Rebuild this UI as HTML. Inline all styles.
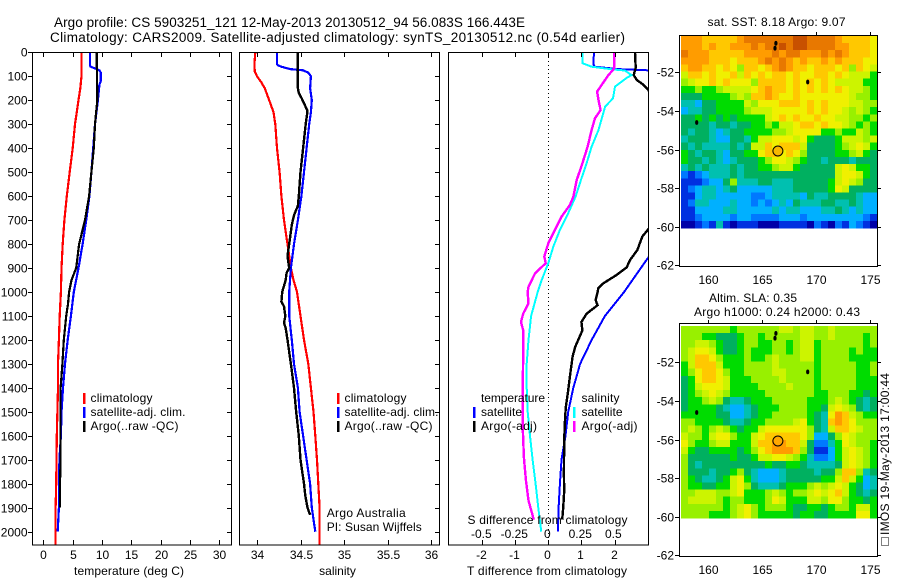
<!DOCTYPE html>
<html lang="en">
<head>
<meta charset="utf-8">
<title>Argo profile</title>
<style>
html,body{margin:0;padding:0;background:#fff;}
svg{display:block;}
text{font-family:"Liberation Sans",sans-serif;font-size:12px;fill:#000;}
.ttl{font-size:13.5px;}
.frame{fill:none;stroke:#000;stroke-width:1;shape-rendering:crispEdges;}
.tick{stroke:#000;stroke-width:1;shape-rendering:crispEdges;}
.prof{fill:none;stroke-linejoin:miter;shape-rendering:crispEdges;}
</style>
</head>
<body>
<svg id="chart" xmlns="http://www.w3.org/2000/svg" width="900" height="580" viewBox="0 0 900 580">
<defs>
<clipPath id="clip-t"><rect x="32.5" y="52.5" width="199" height="492.5"/></clipPath>
<clipPath id="clip-s"><rect x="239.5" y="52.5" width="200" height="492.5"/></clipPath>
<clipPath id="clip-d"><rect x="448.5" y="52.5" width="200" height="492.5"/></clipPath>
</defs>
<rect width="900" height="580" fill="#fff"/>

<text class="ttl" x="54" y="27" textLength="471" lengthAdjust="spacing">Argo profile: CS 5903251_121 12-May-2013 20130512_94 56.083S 166.443E</text>
<text class="ttl" x="50" y="42" textLength="575" lengthAdjust="spacing">Climatology: CARS2009. Satellite-adjusted climatology: synTS_20130512.nc (0.54d earlier)</text>

<g id="marks-heat"></g>
<g id="marks-lines"></g>
<g id="axes"></g>

<rect class="frame" x="32.5" y="52.5" width="199" height="492.5"/>
<rect class="frame" x="239.5" y="52.5" width="200" height="492.5"/>
<rect class="frame" x="448.5" y="52.5" width="200" height="492.5"/>
<rect class="frame" x="679.5" y="35.5" width="198" height="231"/>
<rect class="frame" x="679.5" y="323.5" width="198" height="233"/>

<text x="129" y="575" text-anchor="middle" textLength="110" lengthAdjust="spacing">temperature (deg C)</text>
<text x="337.5" y="575" text-anchor="middle">salinity</text>
<text x="547" y="575" text-anchor="middle" textLength="160" lengthAdjust="spacing">T difference from climatology</text>
<text x="547.5" y="524" text-anchor="middle" textLength="160" lengthAdjust="spacing">S difference from climatology</text>

<g>
<rect x="83" y="393" width="2.5" height="11" fill="#f00"/>
<rect x="83" y="407" width="2.5" height="11" fill="#00f"/>
<rect x="83" y="421" width="2.5" height="11" fill="#000"/>
<text x="90.5" y="402" textLength="62" lengthAdjust="spacing">climatology</text>
<text x="90.5" y="416" textLength="95" lengthAdjust="spacing">satellite-adj. clim.</text>
<text x="90.5" y="430" textLength="88" lengthAdjust="spacing">Argo(..raw -QC)</text>
</g>
<g>
<rect x="337" y="393" width="2.5" height="11" fill="#f00"/>
<rect x="337" y="407" width="2.5" height="11" fill="#00f"/>
<rect x="337" y="421" width="2.5" height="11" fill="#000"/>
<text x="344.5" y="402" textLength="62" lengthAdjust="spacing">climatology</text>
<text x="344.5" y="416" textLength="94" lengthAdjust="spacing">satellite-adj. clim.</text>
<text x="344.5" y="430" textLength="88" lengthAdjust="spacing">Argo(..raw -QC)</text>
</g>
<text x="326.7" y="517" textLength="79" lengthAdjust="spacing">Argo Australia</text>
<text x="326.7" y="531" textLength="95" lengthAdjust="spacing">PI: Susan Wijffels</text>

<g>
<text x="481" y="402" textLength="64" lengthAdjust="spacing">temperature</text>
<rect x="473" y="407" width="2.5" height="11" fill="#00f"/>
<rect x="473" y="421" width="2.5" height="11" fill="#000"/>
<text x="481" y="416" textLength="41" lengthAdjust="spacing">satellite</text>
<text x="481" y="430" textLength="56" lengthAdjust="spacing">Argo(-adj)</text>
</g>
<g>
<text x="581.5" y="402" textLength="38" lengthAdjust="spacing">salinity</text>
<rect x="573" y="407" width="2.5" height="11" fill="#0ff"/>
<rect x="573" y="421" width="2.5" height="11" fill="#f0f"/>
<text x="581.5" y="416" textLength="41" lengthAdjust="spacing">satellite</text>
<text x="581.5" y="430" textLength="56" lengthAdjust="spacing">Argo(-adj)</text>
</g>

<text x="707.5" y="26" textLength="138" lengthAdjust="spacing">sat. SST: 8.18 Argo: 9.07</text>
<text x="709" y="302" textLength="88" lengthAdjust="spacing">Altim. SLA: 0.35</text>
<text x="694" y="316" textLength="166" lengthAdjust="spacing">Argo h1000: 0.24 h2000: 0.43</text>

<text transform="translate(889,535) rotate(-90)" textLength="162" lengthAdjust="spacing">IMOS 19-May-2013 17:00:44</text>
<rect x="881.5" y="537.5" width="7" height="8" fill="none" stroke="#000" stroke-width="1" stroke-dasharray="1 1" shape-rendering="crispEdges"/>
</svg>

<script>
// ---------- axis ticks ----------
var depthTicks = [0,100,200,300,400,500,600,700,800,900,1000,1100,1200,1300,1400,1500,1600,1700,1800,1900,2000];
var tempTicks = [0,5,10,15,20,25,30];
var salTicks = [34,34.5,35,35.5,36];
var salTickLabels = ['34','34.5','35','35.5','36'];
var tDiffTicks = [-2,-1,0,1,2];
var sDiffTicks = [-0.5,-0.25,0,0.25,0.5];
var lonTicks = [160,165,170,175];
var latTicks = [-52,-54,-56,-58,-60,-62];

// ---------- temperature panel ----------
var tClimD = [0,100,150,200,300,400,500,600,700,800,900,1000,1100,1200,1300,1400,1500,1600,1700,1800,1900,2060];
var tClimV = [6.5,6.5,6.3,6.0,5.4,5.0,4.5,4.0,3.6,3.3,3.1,3.0,2.8,2.65,2.5,2.5,2.4,2.3,2.25,2.2,2.1,2.1];
var tSatD = [0,55,60,70,75,85,120,135,200,300,400,500,600,700,800,900,1000,1100,1200,1300,1400,1500,1600,1700,1800,1900,2000];
var tSatV = [7.95,7.95,8.05,9.1,9.55,9.8,9.8,9.55,9.3,8.8,8.5,8.2,7.85,7.3,6.7,6.0,5.2,4.7,4.15,3.7,3.35,3.1,3.0,2.75,2.7,2.65,2.45];
var tArgoD = [0,130,150,200,300,400,500,600,700,800,900,950,1000,1050,1100,1200,1300,1400,1500,1600,1700,1800,1900];
var tArgoV = [9.1,9.15,9.2,9.2,8.8,8.6,8.2,7.8,7.1,6.1,5.6,4.8,4.4,4.2,3.9,3.5,3.25,2.95,2.95,2.95,2.95,2.85,2.85];

// ---------- salinity panel ----------
var sClimD = [0,50,80,100,125,150,200,250,300,400,500,600,700,800,850,900,950,1000,1100,1200,1300,1400,1500,1600,1700,1800,1900,2000,2060];
var sClimV = [33.98,33.97,33.975,34.0,34.05,34.09,34.14,34.19,34.21,34.23,34.26,34.28,34.31,34.35,34.37,34.39,34.42,34.46,34.50,34.54,34.59,34.62,34.65,34.67,34.69,34.705,34.72,34.72,34.72];
var sSatD = [0,50,55,60,70,75,85,100,150,200,250,300,400,500,600,700,800,900,1000,1100,1200,1300,1400,1500,1600,1700,1800,1900,2000];
var sSatV = [34.23,34.23,34.245,34.28,34.38,34.53,34.59,34.62,34.61,34.63,34.62,34.6,34.57,34.54,34.51,34.47,34.425,34.39,34.37,34.37,34.40,34.425,34.47,34.49,34.53,34.57,34.61,34.63,34.67];
var sArgoD = [0,150,170,190,220,245,300,400,500,600,640,680,720,800,850,900,920,950,1000,1040,1060,1100,1130,1150,1200,1300,1400,1500,1600,1700,1800,1850,1900,1930];
var sArgoV = [34.47,34.47,34.48,34.51,34.55,34.58,34.56,34.53,34.5,34.48,34.47,34.425,34.40,34.37,34.35,34.37,34.34,34.33,34.29,34.28,34.31,34.325,34.31,34.33,34.35,34.39,34.425,34.45,34.48,34.50,34.54,34.555,34.58,34.61];

// ---------- difference panel ----------
var dtSatD = [0,50,60,70,75,100,300,600,800,860,1000,1100,1200,1300,1400,1500,1600,1700,1800,1900,2000];
var dtSatV = [1.38,1.36,1.41,2.1,3.0,3.3,3.4,3.85,3.4,3.0,2.29,1.71,1.31,0.96,0.755,0.6,0.52,0.4,0.35,0.31,0.29];
var dtArgoD = [0,65,95,115,135,157,300,600,738,769,825,866,897,929,964,985,1000,1034,1055,1090,1125,1160,1230,1270,1340,1410,1480,1550,1620,1760,1830,1900,1950];
var dtArgoV = [2.62,2.64,2.58,2.67,2.87,3.02,3.5,3.9,3.02,2.84,2.69,2.47,2.37,2.06,1.66,1.51,1.49,1.43,1.49,1.16,1.0,1.03,0.81,0.735,0.665,0.6,0.53,0.5,0.48,0.47,0.48,0.45,0.42];
var dsSatD = [0,46,60,71,76,95,108,143,192,227,324,394,463,533,602,672,741,811,880,950,1000,1100,1200,1300,1400,1500,1600,1700,1800,1900,2000];
var dsSatV = [0.258,0.26,0.328,0.48,0.58,0.63,0.59,0.505,0.49,0.43,0.38,0.328,0.29,0.247,0.207,0.15,0.088,0.038,0,-0.05,-0.08,-0.13,-0.15,-0.164,-0.164,-0.156,-0.139,-0.119,-0.096,-0.076,-0.053];
var dsArgoD = [0,65,74,95,115,164,199,241,275,324,394,463,533,602,637,686,741,797,852,880,922,978,1000,1047,1090,1125,1160,1270,1410,1550,1690,1785,1870,1950];
var dsArgoV = [0.5,0.5,0.49,0.455,0.43,0.37,0.38,0.396,0.354,0.328,0.298,0.258,0.215,0.19,0.164,0.10,0.05,0,-0.03,-0.02,-0.10,-0.15,-0.157,-0.15,-0.19,-0.207,-0.19,-0.19,-0.195,-0.195,-0.185,-0.17,-0.15,-0.11];

// ---------- map colour levels ----------
var levelColors = ['#0000a8','#0030e0','#0078ff','#00b0ff','#00c0b0','#00b060','#00dc00','#98f000','#ccf400','#f0f000','#ffc800','#ff9c00','#e87800','#c85000'];

// ---------- SST map (colour level per cell, north to south) ----------
var sstRows = [
[11,11,11,10,10,10,10,10,11,12,12,12,12,12,12,12,13,13,12,12,12,12,11,10,10,10,10,9],
[11,11,11,10,11,10,10,11,11,11,12,11,12,12,13,12,13,13,12,12,12,12,11,11,10,10,10,9],
[12,11,11,11,10,10,10,10,10,11,11,11,11,12,11,12,12,11,11,11,12,11,12,11,10,10,10,9],
[11,11,11,11,10,10,10,9,10,10,10,11,12,11,12,11,10,11,10,10,11,10,11,10,10,10,9,9],
[10,11,11,10,10,9,10,9,7,10,10,9,10,11,12,11,10,10,9,10,10,10,9,10,7,10,9,8],
[8,10,10,9,10,9,9,10,8,10,9,10,9,10,10,9,10,9,9,10,10,9,10,9,8,8,8,6],
[7,8,9,9,10,9,10,9,9,9,7,10,10,10,10,9,10,9,10,9,10,9,8,8,8,8,6,6],
[6,6,7,6,6,7,8,8,8,8,9,10,11,10,10,9,10,9,10,9,10,9,10,9,8,8,7,6],
[5,5,5,6,6,6,6,7,8,7,10,10,11,10,9,9,10,9,9,9,9,9,9,9,8,7,7,6],
[4,4,3,5,5,6,6,6,6,8,7,9,9,9,10,10,10,9,10,9,10,9,9,9,8,8,7,7],
[3,4,4,5,5,6,6,6,6,7,8,8,8,9,9,9,9,9,10,9,10,9,9,8,7,8,7,6],
[5,5,6,5,6,5,6,5,6,6,6,6,8,9,10,9,10,9,9,10,9,9,8,8,7,7,6,7],
[5,5,5,5,4,5,5,4,5,5,6,6,7,6,8,8,9,10,10,9,10,9,9,8,7,6,7,6],
[5,4,5,5,4,3,4,5,5,6,6,6,6,7,7,8,9,9,9,9,6,6,7,6,6,8,7,6],
[4,5,5,5,4,3,3,5,5,4,6,8,8,9,9,9,8,9,6,5,5,5,6,8,8,8,7,8],
[5,4,5,4,4,4,4,5,4,5,8,8,10,9,10,10,10,8,5,5,5,5,6,7,8,9,8,6],
[6,5,4,5,5,4,3,5,5,6,6,9,10,10,9,10,9,7,5,5,5,5,6,6,7,8,6,5],
[6,5,5,4,5,4,3,4,5,5,5,6,7,9,9,8,7,6,5,5,4,5,5,5,4,5,5,5],
[4,5,4,5,4,4,4,5,4,5,5,6,6,7,8,8,6,5,5,5,5,5,8,9,8,6,6,5],
[2,1,2,3,4,4,4,5,4,5,5,5,5,5,5,5,5,5,5,5,5,5,8,9,9,8,6,5],
[1,1,1,2,3,3,5,7,4,4,4,5,5,4,4,4,5,5,5,5,5,6,8,9,8,7,5,5],
[1,2,3,4,4,3,4,5,3,3,3,3,3,4,4,4,5,5,5,5,5,6,9,8,5,5,5,5],
[1,1,3,4,4,3,3,3,3,3,2,2,3,4,4,4,4,3,5,4,4,5,5,5,5,4,3,3],
[1,2,4,4,3,3,3,4,3,3,2,3,2,3,4,3,5,4,4,4,5,5,4,4,5,4,3,3],
[1,1,3,3,3,3,4,4,3,3,3,3,3,4,3,4,4,3,3,3,4,4,5,4,3,4,3,3],
[1,1,2,3,3,3,3,2,3,3,2,2,2,2,3,3,3,2,3,3,3,3,3,3,3,3,2,1],
[0,0,1,2,1,4,1,0,1,1,1,0,0,0,1,1,1,1,0,2,1,0,2,1,3,2,1,0]
];

// ---------- SLA map (colour level per cell, north to south) ----------
var slaRows = [
[7,7,7,7,7,7,7,6,7,7,7,7,7,7,8,8,7,8,8,7,7,8,7,7,7,7,7,7],
[7,7,7,6,6,5,5,5,6,7,7,6,7,7,7,7,7,8,8,7,7,8,7,7,7,7,6,7],
[7,7,8,8,7,6,5,5,6,7,7,6,6,7,7,6,7,8,8,6,7,7,7,7,7,7,6,7],
[7,8,9,9,8,6,5,5,6,7,6,6,6,7,7,6,7,8,8,6,7,7,7,7,6,7,6,6],
[7,8,10,10,9,7,6,6,6,7,6,6,7,8,7,7,7,8,8,6,7,7,7,7,6,6,6,6],
[6,8,10,10,10,8,6,6,6,7,7,7,7,8,7,7,7,7,7,6,7,7,7,7,7,6,6,7],
[6,7,9,10,10,9,7,6,6,7,7,7,7,8,8,7,7,7,7,6,7,7,7,7,7,6,6,7],
[5,6,9,10,10,9,8,6,6,6,7,7,7,7,8,7,7,7,7,6,7,7,7,7,7,6,6,6],
[5,6,8,9,9,9,8,6,6,6,6,7,7,7,7,8,7,7,7,6,7,7,7,7,7,6,6,6],
[5,6,7,8,9,8,7,6,6,6,6,6,7,7,7,7,7,7,7,6,6,7,7,7,6,6,5,6],
[5,6,6,7,8,7,5,4,4,5,6,6,6,7,7,7,7,7,6,6,6,7,8,7,6,5,4,5],
[5,6,6,6,6,5,4,3,3,4,5,6,6,6,7,7,7,7,6,6,5,8,9,8,7,5,4,5],
[6,6,6,6,6,5,5,3,3,4,5,6,6,7,7,7,7,7,6,5,4,9,11,10,8,7,6,6],
[7,7,6,6,6,6,5,4,4,5,6,6,7,7,7,7,8,9,6,5,4,10,11,10,9,7,7,7],
[7,8,7,6,7,8,7,6,5,6,6,8,9,9,9,9,9,9,7,5,4,8,10,10,9,8,7,7],
[8,7,7,6,8,9,9,7,6,6,8,9,10,10,10,10,10,9,7,3,3,5,7,9,8,7,7,7],
[9,7,6,6,7,8,8,6,6,6,8,10,10,11,11,10,10,8,5,2,2,4,6,9,8,7,7,6],
[8,6,5,5,6,6,6,6,5,6,7,9,10,11,11,11,10,7,5,1,1,3,6,8,9,8,7,6],
[7,5,5,5,5,5,5,6,5,5,6,8,8,9,9,8,7,6,4,2,2,3,6,8,9,8,7,6],
[7,5,4,5,5,5,5,5,5,5,5,5,6,5,5,6,6,5,4,4,4,4,5,8,9,8,7,6],
[7,5,5,5,4,5,5,6,7,5,4,3,3,3,4,5,5,5,5,4,5,5,7,10,10,7,4,5],
[7,6,5,4,4,5,6,8,9,6,4,3,3,3,4,5,5,5,5,5,6,6,8,10,8,6,3,4],
[7,6,6,5,5,6,6,8,9,7,5,4,4,4,5,6,6,6,7,8,7,8,9,8,6,5,3,4],
[7,7,8,8,8,7,7,8,9,6,6,6,7,8,7,6,7,7,8,9,8,9,10,8,6,5,4,5],
[7,8,8,8,8,7,6,7,7,6,6,6,7,9,8,6,6,6,8,8,7,9,9,7,6,6,5,6],
[7,7,7,7,7,7,6,7,8,9,7,6,7,7,7,6,5,5,6,6,5,6,7,7,6,8,8,6],
[7,7,7,7,6,6,6,7,8,9,7,6,6,6,6,6,5,6,6,5,5,6,6,6,6,9,9,6]
];

// ---------- map grid and markers ----------
var gridLonStart = 157.47;
var gridLonStep = 0.648;
var gridLatStart = -50.12;
var gridLatStep = -0.3685;
var profileLon = [166.44];
var profileLat = [-56.08];
var islandLon = [166.18,166.26,169.2,158.93];
var islandLat = [-50.75,-50.5,-52.5,-54.6];

// ---------- axis functions ----------
var SVGNS = 'http://www.w3.org/2000/svg';
function depthY(d){ return 52.3 + d * 0.2397; }
function tempX(v){ return 43.3 + v * 5.87; }
function salX(v){ return 257 + (v - 34) * 87; }
function tDiffX(v){ return 548.3 + v * 33.1; }
function sDiffX(v){ return 548.3 + v * 132; }
function lonX(v){ return 708.3 + (v - 160) * 10.8; }
function latY1(v){ return 72.3 + (-52 - v) * 19.3; }
function latY2(v){ return 362.3 + (-52 - v) * 19.3; }
function make(tag, attrs){
  var el = document.createElementNS(SVGNS, tag);
  for (var k in attrs) el.setAttribute(k, attrs[k]);
  return el;
}
var gLines = document.getElementById('marks-lines');
var gHeat = document.getElementById('marks-heat');
var gAxes = document.getElementById('axes');

// ---------- profile lines ----------
function drawLine(name, depths, vals, xFn, color, width, clip){
  var pts = [];
  for (var i = 0; i < depths.length; i++) pts.push(xFn(vals[i]).toFixed(1) + ',' + depthY(depths[i]).toFixed(1));
  var el = make('polyline', {points: pts.join(' '), stroke: color, 'stroke-width': width, 'clip-path': 'url(#' + clip + ')', 'class': 'prof'});
  
  
  gLines.appendChild(el);
}
drawLine('temperature-climatology-line', tClimD, tClimV, tempX, '#f00', 2.2, 'clip-t');
drawLine('temperature-satellite-line', tSatD, tSatV, tempX, '#00f', 2.2, 'clip-t');
drawLine('temperature-argo-line', tArgoD, tArgoV, tempX, '#000', 2.2, 'clip-t');
drawLine('salinity-climatology-line', sClimD, sClimV, salX, '#f00', 2.2, 'clip-s');
drawLine('salinity-satellite-line', sSatD, sSatV, salX, '#00f', 2.2, 'clip-s');
drawLine('salinity-argo-line', sArgoD, sArgoV, salX, '#000', 2.4, 'clip-s');

var zeroLine = make('line', {x1: 548.5, x2: 548.5, y1: 53, y2: 545, stroke: '#000', 'stroke-width': 1, 'stroke-dasharray': '1 3', 'shape-rendering': 'crispEdges'});


gLines.appendChild(zeroLine);

drawLine('t-difference-satellite-line', dtSatD, dtSatV, tDiffX, '#00f', 2, 'clip-d');
drawLine('t-difference-argo-line', dtArgoD, dtArgoV, tDiffX, '#000', 2.4, 'clip-d');
drawLine('s-difference-satellite-line', dsSatD, dsSatV, sDiffX, '#0ff', 2, 'clip-d');
drawLine('s-difference-argo-line', dsArgoD, dsArgoV, sDiffX, '#f0f', 2.4, 'clip-d');

// ---------- heatmaps ----------
function drawMap(name, rows, latFn){
  var g = make('g', {'shape-rendering': 'crispEdges'});
  
  
  for (var r = 0; r < rows.length; r++){
    for (var c = 0; c < rows[r].length; c++){
      var x0 = lonX(gridLonStart + c * gridLonStep);
      var x1 = lonX(gridLonStart + (c + 1) * gridLonStep);
      var y0 = latFn(gridLatStart + r * gridLatStep);
      var y1 = latFn(gridLatStart + (r + 1) * gridLatStep);
      var cell = make('rect', {x: x0.toFixed(2), y: y0.toFixed(2), width: (x1 - x0 + 0.3).toFixed(2), height: (y1 - y0 + 0.3).toFixed(2), fill: levelColors[rows[r][c]]});
      
      
      g.appendChild(cell);
    }
  }
  gHeat.appendChild(g);
}
drawMap('sst-heatmap', sstRows, latY1);
drawMap('sla-heatmap', slaRows, latY2);

function drawMarkers(prefix, latFn, fillColor){
  for (var i = 0; i < islandLon.length; i++){
    var isl = make('ellipse', {cx: lonX(islandLon[i]).toFixed(1), cy: latFn(islandLat[i]).toFixed(1), rx: 1.6, ry: 2.4, fill: '#000'});
    
    
    gHeat.appendChild(isl);
  }
  var mark = make('circle', {cx: lonX(profileLon[0]).toFixed(1), cy: latFn(profileLat[0]).toFixed(1), r: 5, fill: fillColor, stroke: '#000', 'stroke-width': 1});
  
  
  gHeat.appendChild(mark);
}
drawMarkers('sst-map', latY1, '#f8b800');
drawMarkers('sla-map', latY2, '#ffa800');

// ---------- ticks and labels ----------
function tickLine(x1, y1, x2, y2){
  var t = make('line', {x1: x1, y1: y1, x2: x2, y2: y2, 'class': 'tick'});
  
  
  gAxes.appendChild(t);
}
function tickText(str, x, y, anchor){
  var t = make('text', {x: x, y: y, 'text-anchor': anchor});
  t.textContent = str;
  
  
  gAxes.appendChild(t);
}
depthTicks.forEach(function(d){
  var y = Math.round(depthY(d)) + 0.5;
  tickLine(28, y, 32, y);
  tickLine(227, y, 231, y);
  tickLine(435, y, 439, y);
  tickText(String(d), 27.5, y + 4, 'end');
});
tempTicks.forEach(function(v){
  var x = Math.round(tempX(v)) + 0.5;
  tickLine(x, 53, x, 57);
  tickLine(x, 540, x, 545);
  tickText(String(v), x, 559, 'middle');
});
salTicks.forEach(function(v, i){
  var x = Math.round(salX(v)) + 0.5;
  tickLine(x, 53, x, 57);
  tickLine(x, 540, x, 545);
  tickText(salTickLabels[i], x, 559, 'middle');
});
tDiffTicks.forEach(function(v){
  var x = Math.round(tDiffX(v)) + 0.5;
  tickLine(x, 53, x, 57);
  tickLine(x, 540, x, 545);
  tickText(String(v), x - 1, 559, 'middle');
});
sDiffTicks.forEach(function(v){
  var x = sDiffX(v);
  tickText(String(v), x - 1, 538, 'middle');
});
lonTicks.forEach(function(v){
  var x = Math.round(lonX(v)) + 0.5;
  tickLine(x, 32, x, 35);
  tickLine(x, 320, x, 323);
  tickText(String(v), x, 284, 'middle');
  tickText(String(v), x, 574, 'middle');
});
latTicks.forEach(function(v){
  var y1 = Math.round(latY1(v)) + 0.5;
  var y2 = Math.round(latY2(v)) + 0.5;
  tickLine(675, y1, 679, y1);
  tickLine(878, y1, 881, y1);
  tickLine(675, y2, 679, y2);
  tickLine(878, y2, 881, y2);
  tickText(String(v), 674, y1 + 4, 'end');
  tickText(String(v), 674, y2 + 4, 'end');
});
</script>
</body>
</html>
